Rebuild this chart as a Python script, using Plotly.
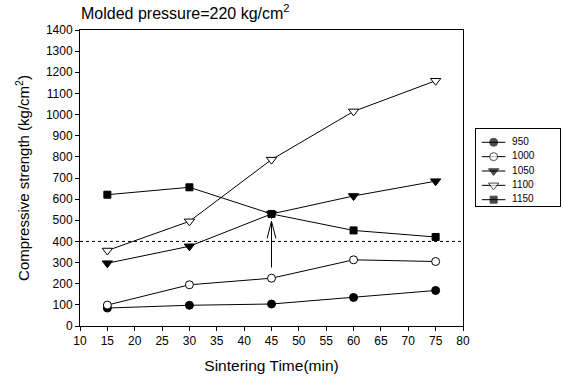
import plotly.graph_objects as go

# ---- data ----
times = [15, 30, 45, 60, 75]
series_names = ["950", "1000", "1050", "1100", "1150"]
s950 = [85, 98, 104, 135, 168]
s1000 = [99, 195, 226, 313, 305]
s1050 = [297, 377, 530, 615, 685]
s1100 = [357, 495, 787, 1015, 1160]
s1150 = [621, 656, 530, 452, 421]
x_ticks = list(range(10, 85, 5))
y_ticks = list(range(0, 1500, 100))
ref_level = 400
arrow_x = 45
arrow_from = 277
arrow_to = 495

FONT = "Liberation Sans, Arial, sans-serif"

styles = [
    dict(symbol="circle", color="black", size=8),
    dict(symbol="circle", color="white", size=8),
    dict(symbol="triangle-down", color="black", size=9),
    dict(symbol="triangle-down", color="white", size=9),
    dict(symbol="square", color="black", size=7),
]

# pixel layout
W, H = 563, 385
ML, MR, MT, MB = 80, 0, 30, 59
plot_w = W - ML - MR
plot_h = H - MT - MB
main_right_px = 463
leg_l, leg_r, leg_t, leg_b = 476, 560, 129, 206

fig = go.Figure()
all_vals = [s950, s1000, s1050, s1100, s1150]
for name, vals, st in zip(series_names, all_vals, styles):
    fig.add_trace(go.Scatter(
        x=times, y=vals, name=name, mode="lines+markers", showlegend=False,
        line=dict(color="black", width=1),
        marker=dict(symbol=st["symbol"], size=st["size"], color=st["color"],
                    line=dict(color="black", width=1)),
    ))

# custom legend drawn on a secondary pair of axes
n = len(series_names)
leg_rows = [1 - (13.3 + 14.35 * i) / 77 for i in range(n)]
for i, (name, st) in enumerate(zip(series_names, styles)):
    yy = leg_rows[i]
    fig.add_trace(go.Scatter(
        x=[0.07, 0.21, 0.35], y=[yy, yy, yy], mode="lines+markers", showlegend=False,
        xaxis="x2", yaxis="y2", hoverinfo="skip",
        line=dict(color="black", width=1),
        marker=dict(symbol=st["symbol"], size=[0, st["size"], 0], color=st["color"],
                    line=dict(color="black", width=[0, 1, 0])),
    ))
fig.add_trace(go.Scatter(
    x=[0.43] * n, y=leg_rows, mode="text", text=series_names, textposition="middle right",
    textfont=dict(size=10, family=FONT, color="black"),
    xaxis="x2", yaxis="y2", showlegend=False, hoverinfo="skip",
))

# reference dotted line
fig.add_shape(type="line", xref="x", yref="y", x0=10, x1=80, y0=ref_level, y1=ref_level,
              line=dict(color="black", width=1, dash="dot"))
# arrow (open V head)
fig.add_shape(type="line", xref="x", yref="y", x0=arrow_x, x1=arrow_x, y0=arrow_from, y1=arrow_to,
              line=dict(color="black", width=1))
fig.add_shape(type="line", xref="x", yref="y", x0=arrow_x - 0.8, x1=arrow_x, y0=arrow_to - 80, y1=arrow_to,
              line=dict(color="black", width=1))
fig.add_shape(type="line", xref="x", yref="y", x0=arrow_x + 0.8, x1=arrow_x, y0=arrow_to - 80, y1=arrow_to,
              line=dict(color="black", width=1))

fig.update_layout(
    width=W, height=H,
    margin=dict(l=ML, r=MR, t=MT, b=MB, autoexpand=False),
    paper_bgcolor="white", plot_bgcolor="white",
    font=dict(family=FONT, color="black", size=12),
    showlegend=False,
    title=dict(text="Molded pressure=220 kg/cm<sup>2</sup>", x=81 / W, xanchor="left",
               y=1 - 13 / H, yanchor="middle", font=dict(size=16, family=FONT)),
    xaxis=dict(domain=[0, (main_right_px - ML) / plot_w], automargin=False,
               range=[10, 80], tickvals=x_ticks, ticks="outside", ticklen=4, tickcolor="black",
               showline=True, linecolor="black", linewidth=1, mirror=True,
               showgrid=False, zeroline=False,
               title=dict(text="Sintering Time(min)", font=dict(size=15.5), standoff=12)),
    yaxis=dict(range=[0, 1400], tickvals=y_ticks, ticks="outside", ticklen=4, tickcolor="black",
               automargin=False,
               showline=True, linecolor="black", linewidth=1, mirror=True,
               showgrid=False, zeroline=False,
               title=dict(text="Compressive strength (kg/cm<sup>2</sup>)", font=dict(size=15), standoff=12)),
    xaxis2=dict(domain=[(leg_l - ML) / plot_w, (leg_r - ML) / plot_w], range=[0, 1],
                anchor="y2", showline=True, linecolor="black", linewidth=1, mirror=True,
                automargin=False,
                showgrid=False, zeroline=False, showticklabels=False, ticks="", fixedrange=True),
    yaxis2=dict(domain=[(H - MB - leg_b) / plot_h, (H - MB - leg_t) / plot_h], range=[0, 1],
                anchor="x2", showline=True, linecolor="black", linewidth=1, mirror=True,
                automargin=False,
                showgrid=False, zeroline=False, showticklabels=False, ticks="", fixedrange=True),
)

fig.write_html("out.html")
